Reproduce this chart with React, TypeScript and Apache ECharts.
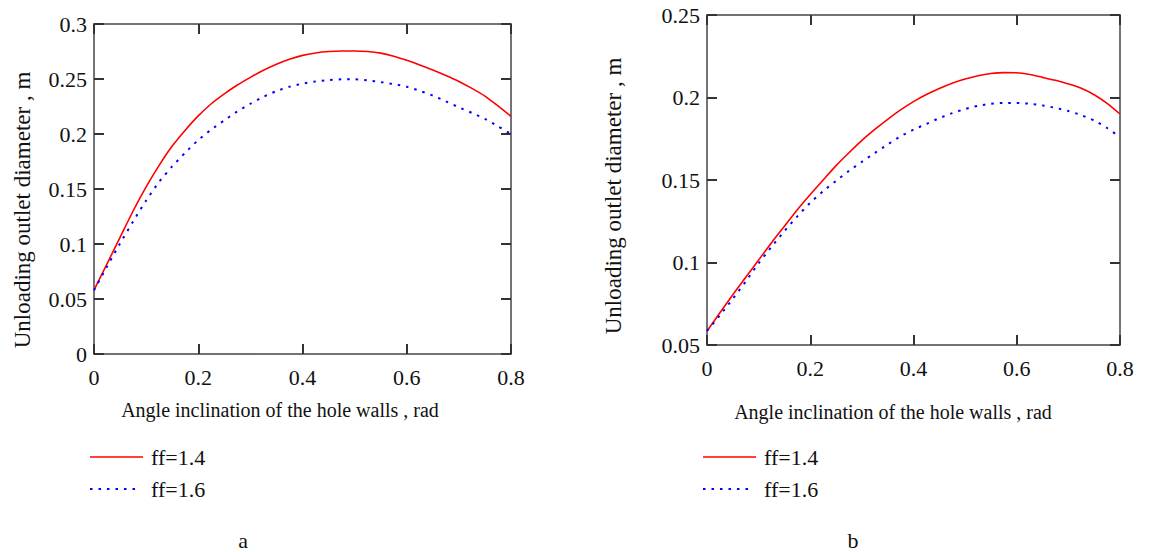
import React, { useEffect, useRef } from "react";
import * as echarts from "echarts";

const ANGLES = [
  0, 0.025, 0.05, 0.075, 0.1, 0.125, 0.15, 0.175, 0.2, 0.225, 0.25, 0.275, 0.3, 0.325, 0.35, 0.375, 0.4,
  0.425, 0.45, 0.475, 0.5, 0.525, 0.55, 0.575, 0.6, 0.625, 0.65, 0.675, 0.7, 0.725, 0.75, 0.775, 0.8,
];

// chart a
const A_FF14 = [
  0.058, 0.082, 0.106, 0.13, 0.152, 0.1715, 0.189, 0.2035, 0.2165, 0.2275, 0.2365, 0.2445, 0.2515, 0.258, 0.2635, 0.268, 0.2715,
  0.2737, 0.275, 0.2755, 0.2755, 0.275, 0.2735, 0.2707, 0.267, 0.2628, 0.2582, 0.2532, 0.2478, 0.2415, 0.2345, 0.2255, 0.216,
];
const A_FF16 = [
  0.058, 0.0795, 0.1005, 0.1205, 0.1395, 0.1565, 0.1705, 0.183, 0.1945, 0.204, 0.2125, 0.2205, 0.2275, 0.2338, 0.239, 0.243, 0.2458,
  0.2477, 0.249, 0.2497, 0.2497, 0.2488, 0.2472, 0.2453, 0.243, 0.2392, 0.235, 0.2297, 0.2242, 0.2192, 0.2137, 0.207, 0.2,
];

// chart b
const B_FF14 = [
  0.0585, 0.0695, 0.0805, 0.091, 0.1015, 0.112, 0.122, 0.132, 0.1412, 0.15, 0.1587, 0.1665, 0.174, 0.1807, 0.1868, 0.1925, 0.1975,
  0.2018, 0.2055, 0.2087, 0.2112, 0.2132, 0.2145, 0.2151, 0.215, 0.2139, 0.2122, 0.2104, 0.2082, 0.2056, 0.2017, 0.1965, 0.19,
];
const B_FF16 = [
  0.0585, 0.068, 0.078, 0.0885, 0.0995, 0.1095, 0.119, 0.128, 0.1362, 0.1432, 0.1495, 0.1555, 0.161, 0.1664, 0.1715, 0.1765, 0.1805,
  0.184, 0.1875, 0.1905, 0.193, 0.195, 0.1962, 0.1967, 0.1967, 0.1962, 0.1952, 0.1937, 0.1918, 0.1893, 0.186, 0.1815, 0.176,
];

const SERIES_NAMES = ["ff=1.4", "ff=1.6"];
const X_TITLE = "Angle inclination of the hole walls , rad";
const Y_TITLE = "Unloading outlet diameter , m";
const CAPTIONS = ["a", "b"];

const FONT = "'Liberation Serif', 'Times New Roman', serif";
const TXT = "#111";
const FRAME = "#444";
const RED = "#ff0000";
const BLUE = "#0000ff";

function zip(xs: number[], ys: number[]) {
  return xs.map((x, i) => [x, ys[i]]);
}

function makeAxis(gridIndex: number, pos: string, min: number, max: number, interval: number) {
  const labelled = pos === "left" || pos === "bottom";
  return {
    gridIndex,
    type: "value",
    position: pos,
    min,
    max,
    interval,
    axisLine: { show: true, onZero: false, lineStyle: { color: FRAME, width: 1.5 } },
    axisTick: { show: true, inside: true, length: 10, lineStyle: { color: "#333", width: 2 } },
    axisLabel: labelled
      ? { show: true, fontFamily: FONT, fontSize: 22, color: TXT, margin: pos === "left" ? 7 : 12 }
      : { show: false },
    splitLine: { show: false },
  };
}

function lineSeries(name: string, axisIdx: number, data: number[], dotted: boolean) {
  return {
    name,
    type: "line",
    xAxisIndex: axisIdx,
    yAxisIndex: axisIdx,
    data: zip(ANGLES, data),
    smooth: 0.25,
    symbol: "none",
    lineStyle: dotted
      ? { color: BLUE, width: 2, type: [2.5, 6] }
      : { color: RED, width: 1.6, type: "solid" },
  };
}

function text(str: string, x: number, y: number, size: number, align = "center", rotate = 0) {
  return {
    type: "text",
    x,
    y,
    rotation: rotate,
    style: {
      text: str,
      fontFamily: FONT,
      fontSize: size,
      fill: TXT,
      textAlign: align,
      textVerticalAlign: "middle",
    },
  };
}

function legendGroup(left: number) {
  return [
    { type: "line", shape: { x1: left, y1: 457, x2: left + 53, y2: 457 }, style: { stroke: RED, lineWidth: 1.6 } },
    text(SERIES_NAMES[0], left + 61, 457, 22, "left"),
    { type: "line", shape: { x1: left, y1: 489, x2: left + 51, y2: 489 }, style: { stroke: BLUE, lineWidth: 2, lineDash: [2.5, 6] } },
    text(SERIES_NAMES[1], left + 61, 489, 22, "left"),
  ];
}

export default function App() {
  const ref = useRef<HTMLDivElement>(null);
  useEffect(() => {
    if (!ref.current) return;
    const chart = echarts.init(ref.current, undefined, { renderer: "svg" });
    const option = {
      animation: false,
      backgroundColor: "#ffffff",
      grid: [
        { left: 94, top: 24, width: 417, height: 330, show: false },
        { left: 707, top: 15, width: 413, height: 330, show: false },
      ],
      xAxis: [
        makeAxis(0, "bottom", 0, 0.8, 0.2),
        makeAxis(0, "top", 0, 0.8, 0.2),
        makeAxis(1, "bottom", 0, 0.8, 0.2),
        makeAxis(1, "top", 0, 0.8, 0.2),
      ],
      yAxis: [
        makeAxis(0, "left", 0, 0.3, 0.05),
        makeAxis(0, "right", 0, 0.3, 0.05),
        makeAxis(1, "left", 0.05, 0.25, 0.05),
        makeAxis(1, "right", 0.05, 0.25, 0.05),
      ],
      series: [
        lineSeries(SERIES_NAMES[0], 0, A_FF14, false),
        lineSeries(SERIES_NAMES[1], 0, A_FF16, true),
        lineSeries(SERIES_NAMES[0], 2, B_FF14, false),
        lineSeries(SERIES_NAMES[1], 2, B_FF16, true),
      ],
      graphic: [
        text(X_TITLE, 280, 410, 20),
        text(X_TITLE, 893, 412, 20),
        text(Y_TITLE, 22, 210, 23, "center", Math.PI / 2),
        text(Y_TITLE, 613, 196, 23, "center", Math.PI / 2),
        text(CAPTIONS[0], 243, 540, 22),
        text(CAPTIONS[1], 853, 540, 22),
        ...legendGroup(90),
        ...legendGroup(703),
      ],
    };
    chart.setOption(option as any);
    return () => chart.dispose();
  }, []);
  return (
    <div
      ref={ref}
      style={{ position: "fixed", left: 0, top: 0, width: 1154, height: 552, background: "#fff" }}
    />
  );
}
